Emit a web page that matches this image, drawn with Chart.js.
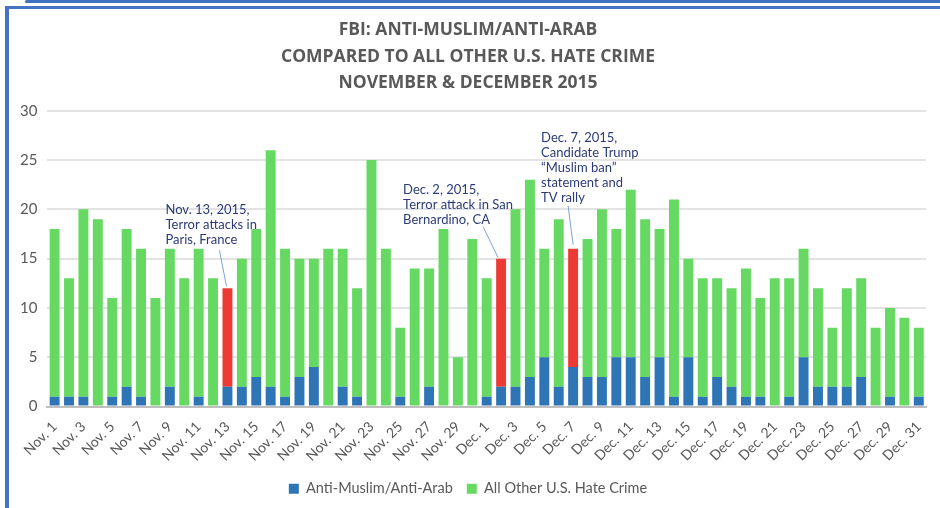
<!DOCTYPE html>
<html>
<head>
<meta charset="utf-8">
<script src="https://cdn.jsdelivr.net/npm/chart.js@4"></script>
<style>
  html, body { margin: 0; padding: 0; background: #fff; }
  body { width: 940px; height: 508px; position: relative; overflow: hidden; }
  #band { position: absolute; left: 25px; top: 0; width: 930px; height: 3px;
          background: #3f70c0; border-radius: 3px 0 0 3px; }
  #frame { position: absolute; left: 5px; top: 6px; width: 940px; height: 510px;
           border-left: 4px solid #4472c4; border-top: 3px solid #4472c4; }
  #wrap { position: absolute; left: 10px; top: 10px; width: 930px; height: 498px; }
</style>
</head>
<body>
<div id="band"></div>
<div id="frame"></div>
<div id="wrap"><canvas id="graf"></canvas></div>
<script>
// ---- data -------------------------------------------------------------
const DAYS = [
  "Nov. 1", "Nov. 2", "Nov. 3", "Nov. 4", "Nov. 5", "Nov. 6", "Nov. 7", "Nov. 8", "Nov. 9", "Nov. 10",
  "Nov. 11", "Nov. 12", "Nov. 13", "Nov. 14", "Nov. 15", "Nov. 16", "Nov. 17", "Nov. 18", "Nov. 19", "Nov. 20",
  "Nov. 21", "Nov. 22", "Nov. 23", "Nov. 24", "Nov. 25", "Nov. 26", "Nov. 27", "Nov. 28", "Nov. 29", "Nov. 30",
  "Dec. 1", "Dec. 2", "Dec. 3", "Dec. 4", "Dec. 5", "Dec. 6", "Dec. 7", "Dec. 8", "Dec. 9", "Dec. 10",
  "Dec. 11", "Dec. 12", "Dec. 13", "Dec. 14", "Dec. 15", "Dec. 16", "Dec. 17", "Dec. 18", "Dec. 19", "Dec. 20",
  "Dec. 21", "Dec. 22", "Dec. 23", "Dec. 24", "Dec. 25", "Dec. 26", "Dec. 27", "Dec. 28", "Dec. 29", "Dec. 30",
  "Dec. 31",
];
const ANTI_MUSLIM = [
  1, 1, 1, 0, 1, 2, 1, 0, 2, 0, 1, 0, 2, 2, 3, 2, 1, 3, 4, 0, 2, 1, 0, 0, 1, 0, 2, 0, 0, 0,
  1, 2, 2, 3, 5, 2, 4, 3, 3, 5, 5, 3, 5, 1, 5, 1, 3, 2, 1, 1, 0, 1, 5, 2, 2, 2, 3, 0, 1, 0, 1,
];
const ALL_OTHER = [
  17, 12, 19, 19, 10, 16, 15, 11, 14, 13, 15, 13, 10, 13, 15, 24, 15, 12, 11, 16, 14, 11, 25, 16, 7, 14, 12, 18, 5, 17,
  12, 13, 18, 20, 11, 17, 12, 14, 17, 13, 17, 16, 13, 20, 10, 12, 10, 10, 13, 10, 13, 12, 11, 10, 6, 10, 10, 8, 9, 9, 7,
];
const Y_TICKS = [0, 5, 10, 15, 20, 25, 30];
const SERIES = ["Anti-Muslim/Anti-Arab", "All Other U.S. Hate Crime"];
const TITLE = ["FBI: ANTI-MUSLIM/ANTI-ARAB", "COMPARED TO ALL OTHER U.S. HATE CRIME", "NOVEMBER & DECEMBER 2015"];

// event days (bar drawn red) and their notes
const EVENT_DAYS = ["Nov. 13", "Dec. 2", "Dec. 7"];
const EVENT_NOTES = [
  ["Nov. 13, 2015,", "Terror attacks in", "Paris, France"],
  ["Dec. 2, 2015,", "Terror attack in San", "Bernardino, CA"],
  ["Dec. 7, 2015,", "Candidate Trump", "\u201CMuslim ban\u201D", "statement and", "TV rally"],
];

// colours
const BLUE = "#2e75b6";
const GREEN = "#66d962";
const RED = "#ee3a35";
const GRAY = "#595959";
const NAVY = "#2c3b78";

// ---- annotation plugin: text + leader line to the red bar --------------
// offsets relative to the bar top: [textDx, firstLineDy, lineFromDx, lineFromDy, lineToDx, lineToDy]
const NOTE_OFFS = [
  [-62, -78, -8, -38, -1, -2],
  [-98, -69, -18, -32, -3, -1],
  [-32, -111, -5, -43, 0, -4],
];
const poznamky = {
  id: "poznamky",
  afterDatasetsDraw(chart) {
    const { ctx, scales: { x, y } } = chart;
    ctx.save();
    ctx.font = "13px Lato, 'Open Sans', sans-serif";
    ctx.fillStyle = NAVY;
    ctx.textBaseline = "middle";
    ctx.textAlign = "left";
    EVENT_DAYS.forEach((d, k) => {
      const i = DAYS.indexOf(d);
      const px = x.getPixelForValue(i);
      const top = y.getPixelForValue(ANTI_MUSLIM[i] + ALL_OTHER[i]);
      const o = NOTE_OFFS[k];
      EVENT_NOTES[k].forEach((t, j) => ctx.fillText(t, px + o[0], top + o[1] + j * 15));
      ctx.strokeStyle = "#7fa3d6";
      ctx.lineWidth = 1;
      ctx.beginPath();
      ctx.moveTo(px + o[2], top + o[3]);
      ctx.lineTo(px + o[4], top + o[5]);
      ctx.stroke();
    });
    ctx.restore();
  },
};

const zvyrazni = (c) => EVENT_DAYS.includes(DAYS[c.dataIndex]) ? RED : GREEN;

new Chart(document.getElementById("graf"), {
  type: "bar",
  data: {
    labels: DAYS,
    datasets: [
      { label: SERIES[0], data: ANTI_MUSLIM, backgroundColor: BLUE },
      { label: SERIES[1], data: ALL_OTHER, backgroundColor: zvyrazni },
    ],
  },
  options: {
    responsive: true, maintainAspectRatio: false, animation: false,
    layout: { padding: { left: 0, right: 14, top: 4, bottom: 2 } },
    datasets: { bar: { categoryPercentage: 0.69, barPercentage: 1 } },
    plugins: {
      title: {
        display: true, text: TITLE, color: GRAY,
        font: { family: "'Open Sans', sans-serif", size: 17.5, weight: "bold", lineHeight: 1.52 },
        padding: { top: 3, bottom: 14 },
      },
      legend: {
        position: "bottom",
        labels: {
          color: GRAY, boxWidth: 10, boxHeight: 10, padding: 14,
          font: { family: "Lato, sans-serif", size: 14.5 },
          generateLabels: (chart) => Chart.defaults.plugins.legend.labels.generateLabels(chart)
            .map((l, i) => ({ ...l, fillStyle: [BLUE, GREEN][i], strokeStyle: [BLUE, GREEN][i], lineWidth: 0 })),
        },
      },
      tooltip: { enabled: false },
    },
    scales: {
      x: {
        stacked: true,
        grid: { display: false },
        border: { color: "#bfbfbf", width: 2 },
        afterFit: (s) => { s.height = 61; },
        ticks: {
          color: GRAY, autoSkip: false, maxRotation: 45, minRotation: 45, padding: 4,
          font: { family: "Lato, sans-serif", size: 14 },
          callback: (v, i) => i % 2 === 0 ? DAYS[i] : "",
        },
      },
      y: {
        stacked: true, min: 0, max: 30,
        afterBuildTicks: (s) => { s.ticks = Y_TICKS.map(v => ({ value: v })); },
        grid: { color: "#e3e3e3", lineWidth: 2, drawTicks: false },
        border: { display: false },
        ticks: { color: GRAY, padding: 10, font: { family: "Lato, sans-serif", size: 15 } },
      },
    },
  },
  plugins: [poznamky],
});
</script>
</body>
</html>
